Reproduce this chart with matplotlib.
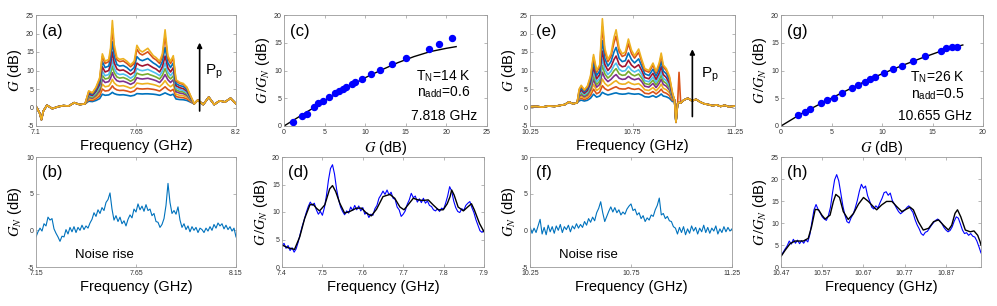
import numpy as np
import matplotlib
matplotlib.use('Agg')
import matplotlib.pyplot as plt
from matplotlib.ticker import FormatStrFormatter

plt.rcParams['font.family'] = ['Liberation Sans', 'DejaVu Sans']
plt.rcParams['mathtext.fontset'] = 'stix'

# ---------------- (a) gain vs frequency, 10 pump powers ----------------
freq_a_lo = [7.10, 7.12, 7.13, 7.14, 7.16, 7.19, 7.22, 7.25, 7.28, 7.31, 7.34, 7.37]
gain_a_lo = [0.3, -1.5, -3.3, -1.0, 0.6, -0.3, 0.2, 0.5, 0.4, 1.3, 0.8, 1.0]
freq_a_pump = [7.39, 7.41, 7.43, 7.45, 7.465, 7.48, 7.50, 7.51, 7.52, 7.53, 7.545, 7.56,
               7.58, 7.60, 7.62, 7.64, 7.655, 7.67, 7.685, 7.70, 7.715, 7.73, 7.745, 7.76,
               7.78, 7.795, 7.81, 7.825, 7.84, 7.855, 7.87, 7.89, 7.91, 7.93, 7.95]
freq_a_hi = [7.97, 7.99, 8.02, 8.05, 8.08, 8.11, 8.14, 8.17, 8.20]
gain_a_hi = [1.0, 2.0, 0.8, 2.8, 0.8, 1.8, 1.5, 2.5, 1.0]

gain_a_p1 = [1.7, 1.6, 1.9, 2.4, 3.6, 3.3, 3.4, 3.7, 4.1, 3.75, 3.5, 3.4, 3.45, 3.3, 3.1, 3.3, 3.75, 3.7,
             3.65, 3.7, 3.7, 3.65, 3.6, 3.5, 3.3, 3.6, 3.95, 3.6, 3.3, 3.6, 2.3, 2.15, 2.1, 1.9, 1.45]
gain_a_p2 = [2.05, 1.9, 2.35, 3.1, 5.0, 4.45, 4.6, 5.1, 5.85, 5.2, 4.75, 4.6, 4.65, 4.45, 4.15, 4.45, 5.2,
             5.05, 5.0, 5.05, 5.1, 5.0, 4.9, 4.75, 4.45, 5.0, 5.6, 4.9, 4.45, 4.9, 2.95, 2.75, 2.65, 2.35, 1.65]
gain_a_p3 = [2.4, 2.2, 2.8, 3.8, 6.3, 5.6, 5.8, 6.5, 7.6, 6.65, 6.0, 5.8, 5.9, 5.6, 5.2, 5.6, 6.6, 6.45,
             6.35, 6.45, 6.5, 6.35, 6.2, 6.0, 5.6, 6.3, 7.25, 6.2, 5.6, 6.2, 3.6, 3.3, 3.2, 2.8, 1.9]
gain_a_p4 = [2.75, 2.5, 3.25, 4.5, 7.6, 6.75, 7.0, 7.9, 9.4, 8.1, 7.25, 7.0, 7.1, 6.75, 6.25, 6.75, 8.05,
             7.8, 7.7, 7.8, 7.9, 7.7, 7.5, 7.25, 6.75, 7.6, 8.9, 7.5, 6.75, 7.5, 4.25, 3.9, 3.75, 3.25, 2.1]
gain_a_p5 = [3.0, 2.7, 3.6, 5.1, 8.7, 7.7, 7.95, 9.1, 11.2, 9.4, 8.25, 7.95, 8.1, 7.7, 7.1, 7.7, 9.3,
             8.95, 8.8, 8.95, 9.1, 8.8, 8.55, 8.25, 7.7, 8.7, 10.5, 8.55, 7.7, 8.55, 4.75, 4.35, 4.2, 3.6, 2.3]
gain_a_p6 = [3.3, 3.0, 4.0, 5.6, 9.8, 8.6, 8.9, 10.3, 12.9, 10.6, 9.25, 8.9, 9.05, 8.6, 7.9, 8.6, 10.55,
             10.1, 9.95, 10.1, 10.3, 9.95, 9.6, 9.25, 8.6, 9.8, 12.0, 9.6, 8.6, 9.6, 5.3, 4.85, 4.6, 4.0, 2.45]
gain_a_p7 = [3.6, 3.25, 4.4, 6.25, 11.0, 9.6, 10.0, 11.65, 15.0, 12.1, 10.4, 10.0, 10.15, 9.6, 8.9, 9.6,
             12.0, 11.45, 11.2, 11.45, 11.65, 11.2, 10.75, 10.4, 9.6, 11.0, 13.9, 10.75, 9.6, 10.75, 5.9,
             5.35, 5.1, 4.4, 2.65]
gain_a_p8 = [4.0, 3.55, 4.8, 6.95, 12.4, 10.8, 11.2, 13.25, 17.75, 13.85, 11.6, 11.2, 11.35, 10.8, 9.9,
             10.8, 13.75, 12.95, 12.65, 12.95, 13.25, 12.65, 12.05, 11.6, 10.8, 12.4, 16.25, 12.05, 10.8,
             12.05, 6.5, 5.9, 5.7, 4.8, 2.85]
gain_a_p9 = [4.3, 3.85, 5.3, 7.65, 13.8, 11.9, 12.4, 15.05, 21.4, 15.9, 12.9, 12.4, 12.6, 11.9, 11.0,
             11.9, 15.75, 14.6, 14.2, 14.6, 15.05, 14.2, 13.35, 12.9, 11.9, 13.8, 19.3, 13.35, 11.9,
             13.35, 7.2, 6.5, 6.25, 5.3, 3.1]
gain_a_p10 = [4.5, 4.0, 5.5, 8.0, 14.5, 12.5, 13.0, 16.0, 23.5, 17.0, 13.5, 13.0, 13.2, 12.5, 11.5,
              12.5, 16.8, 15.5, 15.0, 15.5, 16.0, 15.0, 14.0, 13.5, 12.5, 14.5, 21.0, 14.0, 12.5,
              14.0, 7.5, 6.8, 6.5, 5.5, 3.2]

# ---------------- (e) gain vs frequency, 10 pump powers ----------------
freq_e_lo = [10.25, 10.28, 10.31, 10.34, 10.37, 10.40, 10.42, 10.44, 10.46, 10.48]
gain_e_lo = [0.2, 0.3, 0.1, 0.4, 0.3, 0.6, 0.8, 1.5, 1.0, 1.3]
freq_e_pump = [10.49, 10.50, 10.515, 10.53, 10.545, 10.56, 10.575, 10.59, 10.603, 10.615, 10.63,
               10.645, 10.66, 10.67, 10.685, 10.70, 10.715, 10.73, 10.745, 10.76, 10.78, 10.795,
               10.81, 10.83, 10.85, 10.865, 10.88, 10.89, 10.90, 10.915, 10.93, 10.945]
freq_e_hi = [10.955, 10.962, 10.97, 10.977, 10.985, 11.0, 11.02, 11.04, 11.06, 11.08, 11.10, 11.12,
             11.14, 11.16, 11.18, 11.20, 11.22, 11.25]
gain_e_hi = [2.0, -4.0, 1.0, 1.5, 1.2, 2.0, 2.5, 1.8, 2.2, 1.5, 1.0, 0.8, 0.5, 0.7, 0.3, 0.6, 0.2, 0.4]
gain_e_hi_spur = [2.0, -4.0, 1.0, 9.5, 1.2, 2.0, 2.5, 1.8, 2.2, 1.5, 1.0, 0.8, 0.5, 0.7, 0.3, 0.6, 0.2, 0.4]

gain_e_p1 = [1.8, 2.0, 1.75, 1.95, 2.5, 3.6, 2.8, 3.1, 4.1, 3.7, 3.4, 3.6, 3.85, 3.95, 3.7, 3.6, 3.65,
             3.85, 3.7, 3.6, 3.7, 3.4, 2.9, 2.8, 3.2, 2.75, 3.2, 3.65, 3.1, 2.9, 2.5, 1.6]
gain_e_p2 = [2.2, 2.5, 2.15, 2.45, 3.25, 4.95, 3.7, 4.15, 5.9, 5.1, 4.6, 5.0, 5.4, 5.6, 5.1, 5.0, 5.0,
             5.35, 5.05, 4.9, 5.1, 4.6, 3.85, 3.7, 4.3, 3.65, 4.3, 4.95, 4.15, 3.85, 3.25, 1.9]
gain_e_p3 = [2.6, 3.0, 2.5, 2.9, 4.0, 6.25, 4.6, 5.2, 7.7, 6.5, 5.8, 6.3, 6.95, 7.25, 6.5, 6.3, 6.35,
             6.9, 6.45, 6.2, 6.45, 5.8, 4.8, 4.6, 5.4, 4.5, 5.4, 6.3, 5.2, 4.8, 4.0, 2.2]
gain_e_p4 = [3.0, 3.5, 2.9, 3.4, 4.75, 7.55, 5.5, 6.25, 9.5, 7.9, 7.0, 7.6, 8.5, 8.9, 7.9, 7.6, 7.7,
             8.4, 7.8, 7.5, 7.85, 7.0, 5.75, 5.5, 6.5, 5.4, 6.5, 7.65, 6.25, 5.75, 4.75, 2.5]
gain_e_p5 = [3.3, 3.9, 3.2, 3.8, 5.35, 8.6, 6.2, 7.1, 11.35, 9.1, 7.95, 8.7, 9.95, 10.5, 9.1, 8.7, 8.8,
             9.8, 8.95, 8.55, 9.05, 7.95, 6.5, 6.2, 7.4, 6.1, 7.4, 8.75, 7.1, 6.5, 5.35, 2.7]
gain_e_p6 = [3.6, 4.3, 3.5, 4.15, 5.95, 9.7, 6.95, 7.9, 13.1, 10.3, 8.9, 9.8, 11.35, 12.0, 10.3, 9.8,
             9.95, 11.15, 10.1, 9.6, 10.2, 8.9, 7.25, 6.95, 8.25, 6.8, 8.25, 9.8, 7.9, 7.25, 5.95, 3.0]
gain_e_p7 = [4.0, 4.75, 3.85, 4.6, 6.6, 10.9, 7.75, 8.9, 15.25, 11.65, 10.0, 11.0, 13.0, 13.9, 11.65,
             11.0, 11.2, 12.8, 11.45, 10.75, 11.55, 10.0, 8.1, 7.75, 9.25, 7.6, 9.25, 11.05, 8.9, 8.1,
             6.6, 3.25]
gain_e_p8 = [4.4, 5.25, 4.25, 5.1, 7.4, 12.25, 8.65, 9.9, 18.05, 13.25, 11.2, 12.4, 15.05, 16.25, 13.25,
             12.4, 12.65, 14.75, 12.95, 12.05, 13.15, 11.2, 9.1, 8.65, 10.35, 8.5, 10.35, 12.45, 9.9,
             9.1, 7.4, 3.55]
gain_e_p9 = [4.8, 5.75, 4.6, 5.55, 8.1, 13.6, 9.55, 11.0, 21.85, 15.05, 12.4, 13.8, 17.6, 19.3, 15.05,
             13.8, 14.2, 17.2, 14.6, 13.35, 14.9, 12.4, 10.0, 9.55, 11.45, 9.35, 11.45, 13.95, 11.0,
             10.0, 8.1, 3.85]
gain_e_p10 = [5.0, 6.0, 4.8, 5.8, 8.5, 14.3, 10.0, 11.5, 24.0, 16.0, 13.0, 14.5, 19.0, 21.0, 16.0,
              14.5, 15.0, 18.5, 15.5, 14.0, 15.8, 13.0, 10.5, 10.0, 12.0, 9.8, 12.0, 14.7, 11.5,
              10.5, 8.5, 4.0]

# ---------------- (c), (g) signal-to-noise improvement vs gain ----------------
gain_c = [1.07, 2.2, 2.8, 3.75, 4.2, 4.8, 5.5, 6.3, 6.8, 7.3, 7.65, 8.35, 8.8, 9.6, 10.7, 11.85,
          13.3, 15.0, 17.8, 19.1, 20.7]
snr_c = [0.8, 1.85, 2.25, 3.5, 4.1, 4.5, 5.2, 5.9, 6.3, 6.6, 7.0, 7.5, 7.9, 8.5, 9.3, 10.1,
         11.1, 12.2, 13.8, 14.8, 15.9]
fit_gain_c = [0, 2, 4, 6, 8, 10, 12, 14, 16, 18, 20, 21.2]
fit_snr_c = [0, 1.8, 3.6, 5.4, 7.1, 8.7, 10.1, 11.4, 12.5, 13.4, 14.0, 14.3]

gain_g = [1.7, 2.4, 2.9, 3.95, 4.6, 5.2, 6.05, 7.05, 7.65, 8.3, 8.8, 9.3, 10.2, 11.05, 11.95,
          13.1, 14.3, 15.8, 16.3, 16.9, 17.45]
snr_g = [2.0, 2.55, 3.0, 4.15, 4.7, 5.1, 6.0, 6.9, 7.45, 7.9, 8.4, 8.85, 9.6, 10.25, 10.85,
         11.7, 12.6, 13.6, 14.0, 14.3, 14.15]
fit_gain_g = [0, 2, 4, 6, 8, 10, 12, 14, 16, 18]
fit_snr_g = [0, 2.2, 4.1, 5.95, 7.75, 9.4, 10.9, 12.3, 13.6, 14.6]

# ---------------- (b), (f) noise rise ----------------
noise_b = [-0.9, -0.2, 0.3, -0.1, 0.9, 0.6, 1.8, 1.4, 1.6, 0.2, -0.4, -0.9, -1.5, -0.8, -0.9, 0.1,
           -0.5, 0.4, -0.2, 0.5, -0.3, 0.4, 0.0, 0.7, 0.1, 0.6, 0.3, 1.0, 1.5, 2.4, 1.9, 2.8, 2.3,
           3.1, 2.7, 3.8, 4.2, 5.1, 2.9, 1.4, 2.0, 1.2, 1.8, 0.9, 1.3, 0.6, 1.5, 2.1, 1.7, 2.9, 2.5,
           3.6, 2.8, 3.3, 2.6, 3.5, 2.7, 2.9, 2.0, 2.3, 1.2, 1.1, 0.4, 0.8, 1.6, 3.4, 6.4, 3.8, 2.3,
           2.7, 2.2, 3.2, 1.4, 0.4, 0.9, 0.1, 0.6, -0.2, 0.5, 0.0, 0.4, -0.3, 0.3, 0.1, -0.3, 0.3,
           -0.1, 0.5, 0.0, 0.8, 0.3, 1.0, 0.6, 0.9, 0.2, 0.7, 0.1, 0.5, -0.1, 0.3, -0.9]
noise_f = [0.5, -0.4, 0.3, -0.3, 0.6, 1.5, -0.5, 0.4, -0.6, 0.7, -0.2, 0.5, -0.4, 0.6, 0.0, 0.8,
           -0.3, 0.5, 0.1, 0.7, -0.2, 0.6, 0.2, 0.9, 0.3, 0.8, 0.4, 1.2, 0.7, 1.6, 1.1, 1.8, 1.3,
           2.4, 3.0, 3.9, 2.4, 1.2, 1.9, 2.6, 3.2, 2.5, 3.1, 2.4, 2.8, 2.1, 2.5, 2.2, 2.9, 3.3, 3.6,
           2.7, 2.9, 2.1, 2.4, 1.6, 2.0, 1.2, 1.7, 1.4, 2.1, 1.9, 2.8, 3.4, 4.4, 2.1, 2.3, 1.6, 1.9,
           1.3, 1.2, 0.5, 0.3, -0.5, 0.4, -0.3, 0.5, -0.6, 0.2, -0.4, 0.6, -0.1, 0.4, -0.5, 0.3,
           -0.2, 0.7, -0.3, 0.4, -0.4, 0.3, -0.1, 0.6, -0.5, 0.2, -0.3, 0.5, -0.2, 0.4, -0.1, 0.2]

# ---------------- (d), (h) SNR improvement vs frequency ----------------
snr_meas_d = [3.9, 4.3, 3.4, 3.9, 3.0, 3.5, 2.7, 3.3, 4.5, 6.0, 7.4, 8.6, 9.9, 11.0, 11.8, 11.2,
              11.6, 10.4, 9.6, 10.1, 9.4, 10.8, 13.0, 15.8, 17.9, 18.6, 16.9, 14.2, 12.3, 10.9, 10.1,
              9.5, 10.2, 9.8, 10.9, 10.3, 11.2, 10.4, 11.1, 10.2, 10.8, 9.6, 9.9, 9.0, 9.6, 9.4, 10.6,
              11.2, 12.5, 13.1, 13.8, 13.2, 14.0, 13.1, 13.6, 12.5, 12.3, 10.9, 10.4, 9.2, 9.6, 10.2,
              11.4, 12.2, 13.4, 12.6, 12.9, 11.8, 12.4, 11.7, 12.5, 11.6, 12.0, 11.2, 11.0, 10.4, 10.2,
              10.6, 10.1, 10.7, 10.5, 11.6, 12.9, 14.6, 13.8, 12.0, 10.8, 10.1, 9.9, 10.6, 10.3, 11.2,
              11.6, 11.9, 10.8, 9.9, 8.6, 7.6, 6.6, 6.3, 6.7]
fit_freq_d = [7.400, 7.415, 7.431, 7.444, 7.456, 7.469, 7.477, 7.485, 7.493, 7.506, 7.518, 7.525,
              7.533, 7.543, 7.555, 7.568, 7.584, 7.597, 7.609, 7.621, 7.634, 7.650, 7.667, 7.679,
              7.692, 7.702, 7.712, 7.725, 7.737, 7.750, 7.762, 7.774, 7.787, 7.799, 7.809, 7.816,
              7.820, 7.826, 7.836, 7.849, 7.861, 7.869, 7.876, 7.889, 7.900]
fit_snr_d = [4.0, 3.5, 3.2, 5.5, 8.8, 11.3, 11.4, 10.7, 10.2, 11.3, 14.2, 14.8, 13.7, 11.6, 9.8, 10.1,
             10.7, 10.7, 9.8, 9.3, 10.5, 12.8, 13.2, 12.5, 10.9, 10.4, 11.3, 12.5, 12.2, 12.1, 12.2,
             11.3, 10.4, 10.4, 11.5, 12.8, 14.0, 13.1, 10.9, 10.2, 11.0, 11.5, 10.4, 7.9, 6.4]

snr_meas_h = [2.6, 3.3, 4.1, 4.8, 5.9, 5.2, 6.3, 5.4, 6.1, 5.3, 6.0, 5.4, 6.2, 5.7, 7.4, 10.2, 13.0,
              14.2, 13.1, 12.3, 11.4, 10.9, 10.6, 11.7, 13.6, 16.9, 19.8, 21.0, 19.6, 16.8, 13.9, 11.8,
              10.3, 10.0, 11.2, 12.0, 13.4, 15.1, 17.2, 18.8, 17.9, 18.4, 16.2, 15.0, 13.6, 13.2, 13.9,
              13.4, 14.6, 15.6, 16.9, 17.1, 16.3, 16.8, 15.1, 14.3, 13.4, 12.6, 12.1, 12.5, 12.9, 13.5,
              13.9, 13.1, 12.4, 10.8, 9.6, 8.7, 7.6, 7.2, 7.9, 8.1, 8.8, 9.5, 10.1, 10.6, 10.9, 10.5,
              9.9, 9.0, 8.4, 8.0, 8.3, 9.1, 10.4, 11.4, 11.1, 9.8, 8.4, 7.6, 7.8, 7.2, 7.6, 7.0, 6.8,
              5.9, 4.6, 3.2]
fit_freq_h = [10.470, 10.480, 10.492, 10.504, 10.524, 10.536, 10.544, 10.553, 10.561, 10.569,
              10.577, 10.589, 10.597, 10.603, 10.612, 10.621, 10.633, 10.646, 10.658, 10.670,
              10.682, 10.694, 10.702, 10.714, 10.726, 10.739, 10.751, 10.763, 10.771, 10.783,
              10.791, 10.803, 10.815, 10.828, 10.840, 10.852, 10.864, 10.876, 10.884, 10.892,
              10.898, 10.906, 10.917, 10.929, 10.938, 10.947, 10.953, 10.955]
fit_snr_h = [2.4, 3.8, 5.3, 5.9, 5.9, 6.5, 9.1, 13.1, 13.0, 11.8, 10.9, 11.8, 14.9, 16.5, 15.8, 12.6,
             10.8, 12.2, 14.3, 15.8, 14.9, 13.7, 13.0, 14.1, 14.9, 14.9, 13.7, 12.6, 13.0, 13.6, 13.0,
             10.3, 8.4, 8.8, 10.3, 10.7, 9.5, 8.4, 9.5, 12.2, 13.0, 11.4, 8.4, 8.0, 8.2, 7.2, 5.7, 5.0]

# ---------------- styling ----------------
matlab_colors = ['#0072BD', '#D95319', '#EDB120', '#7E2F8E', '#77AC30', '#4DBEEE', '#A2142F',
                 '#0072BD', '#D95319', '#EDB120']
frame_color = '#9a9a9a'
tick_text = '#333333'
W, H = 997, 306

fig = plt.figure(figsize=(W / 100, H / 100), dpi=100)


def make_ax(left, right, top, bottom):
    return fig.add_axes([left / W, 1 - bottom / H, (right - left) / W, (bottom - top) / H])


def style(ax, xlim, ylim, xticks, yticks):
    ax.set_xlim(*xlim)
    ax.set_ylim(*ylim)
    ax.set_xticks(xticks)
    ax.set_yticks(yticks)
    ax.xaxis.set_major_formatter(FormatStrFormatter('%g'))
    ax.yaxis.set_major_formatter(FormatStrFormatter('%g'))
    for s in ax.spines.values():
        s.set_color(frame_color)
        s.set_linewidth(0.6)
    ax.tick_params(direction='in', length=2.5, width=0.5, color=frame_color, labelsize=5,
                   labelcolor=tick_text, top=True, right=True)
    ax.tick_params(axis='x', pad=2.5)
    ax.tick_params(axis='y', pad=1.5)


def panel_label(ax, txt):
    ax.text(0.03, 0.855, txt, transform=ax.transAxes, fontsize=12, ha='left', va='center')


xlab = 'Frequency (GHz)'
lab_kw = dict(fontsize=10.5)
xpad = 2
ypad = 1.5

# (a)
ax = make_ax(36, 236, 15, 126)
gains_a = [gain_a_p1, gain_a_p2, gain_a_p3, gain_a_p4, gain_a_p5, gain_a_p6, gain_a_p7,
           gain_a_p8, gain_a_p9, gain_a_p10]
for g, c in zip(gains_a, matlab_colors):
    ax.plot(freq_a_lo + freq_a_pump + freq_a_hi, gain_a_lo + g + gain_a_hi, color=c, lw=1.2)
ax.annotate('', xy=(8.0, 18.3), xytext=(8.0, -1.7),
            arrowprops=dict(arrowstyle='-|>', color='k', lw=1.2, mutation_scale=7))
ax.text(8.03, 9.5, r'P$_\mathregular{p}$', fontsize=11, va='center', ha='left')
style(ax, (7.1, 8.2), (-5, 25), [7.1, 7.65, 8.2], [-5, 0, 5, 10, 15, 20, 25])
ax.set_xlabel(xlab, labelpad=xpad, **lab_kw)
ax.set_ylabel(r'$G$ (dB)', labelpad=ypad, **lab_kw)
panel_label(ax, '(a)')

# (c)
ax = make_ax(284, 487, 15, 126)
ax.plot(fit_gain_c, fit_snr_c, color='k', lw=1.0)
ax.plot(gain_c, snr_c, 'o', color='#0000ff', ms=4.3)
style(ax, (0, 25), (0, 20), [0, 5, 10, 15, 20, 25], [0, 5, 10, 15, 20])
ax.set_xlabel(r'$G$ (dB)', labelpad=xpad, **lab_kw)
ax.set_ylabel(r'$G\,/G_N$ (dB)', labelpad=ypad, **lab_kw)
ax.text(0.92, 0.45, r'T$_\mathregular{N}$=14 K', transform=ax.transAxes, fontsize=10, ha='right', va='center')
ax.text(0.92, 0.305, r'n$_\mathregular{add}$=0.6', transform=ax.transAxes, fontsize=10, ha='right', va='center')
ax.text(0.954, 0.09, '7.818 GHz', transform=ax.transAxes, fontsize=10, ha='right', va='center')
panel_label(ax, '(c)')

# (e)
ax = make_ax(530, 735, 15, 126)
gains_e = [gain_e_p1, gain_e_p2, gain_e_p3, gain_e_p4, gain_e_p5, gain_e_p6, gain_e_p7,
           gain_e_p8, gain_e_p9, gain_e_p10]
for i, (g, c) in enumerate(zip(gains_e, matlab_colors)):
    hi = gain_e_hi_spur if i == 1 else gain_e_hi
    ax.plot(freq_e_lo + freq_e_pump + freq_e_hi, gain_e_lo + g + hi, color=c, lw=1.2)
ax.annotate('', xy=(11.042, 16.5), xytext=(11.042, -3.2),
            arrowprops=dict(arrowstyle='-|>', color='k', lw=1.2, mutation_scale=7))
ax.text(11.085, 8.8, r'P$_\mathregular{p}$', fontsize=11, va='center', ha='left')
style(ax, (10.25, 11.25), (-5, 25), [10.25, 10.75, 11.25], [-5, 0, 5, 10, 15, 20, 25])
ax.set_xlabel(xlab, labelpad=xpad, **lab_kw)
ax.set_ylabel(r'$G$ (dB)', labelpad=ypad, **lab_kw)
panel_label(ax, '(e)')

# (g)
ax = make_ax(781, 983, 15, 126)
ax.plot(fit_gain_g, fit_snr_g, color='k', lw=1.0)
ax.plot(gain_g, snr_g, 'o', color='#0000ff', ms=4.3)
style(ax, (0, 20), (0, 20), [0, 5, 10, 15, 20], [0, 5, 10, 15, 20])
ax.set_xlabel(r'$G$ (dB)', labelpad=xpad, **lab_kw)
ax.set_ylabel(r'$G\,/G_N$ (dB)', labelpad=ypad, **lab_kw)
ax.text(0.909, 0.44, r'T$_\mathregular{N}$=26 K', transform=ax.transAxes, fontsize=10, ha='right', va='center')
ax.text(0.909, 0.29, r'n$_\mathregular{add}$=0.5', transform=ax.transAxes, fontsize=10, ha='right', va='center')
ax.text(0.947, 0.09, '10.655 GHz', transform=ax.transAxes, fontsize=10, ha='right', va='center')
panel_label(ax, '(g)')

# (b)
ax = make_ax(36, 236, 157, 267)
ax.plot(np.linspace(7.15, 8.15, len(noise_b)), noise_b, color='#0072BD', lw=0.8)
ax.text(7.493, -3.4, 'Noise rise', fontsize=9.5, ha='center', va='center')
style(ax, (7.15, 8.15), (-5, 10), [7.15, 7.65, 8.15], [-5, 0, 5, 10])
ax.set_xlabel(xlab, labelpad=xpad, **lab_kw)
ax.set_ylabel(r'$G_N$ (dB)', labelpad=ypad, **lab_kw)
panel_label(ax, '(b)')

# (d)
ax = make_ax(282, 484, 157, 267)
ax.plot(np.linspace(7.4, 7.9, len(snr_meas_d)), snr_meas_d, color='#0000ff', lw=0.8)
ax.plot(fit_freq_d, fit_snr_d, color='k', lw=1.0)
style(ax, (7.4, 7.9), (0, 20), [7.4, 7.5, 7.6, 7.7, 7.8, 7.9], [0, 5, 10, 15, 20])
ax.set_xlabel(xlab, labelpad=xpad, **lab_kw)
ax.set_ylabel(r'$G\,/G_N$ (dB)', labelpad=ypad, **lab_kw)
panel_label(ax, '(d)')

# (f)
ax = make_ax(530, 732, 157, 267)
ax.plot(np.linspace(10.25, 11.25, len(noise_f)), noise_f, color='#0072BD', lw=0.8)
ax.text(10.538, -3.3, 'Noise rise', fontsize=9.5, ha='center', va='center')
style(ax, (10.25, 11.25), (-5, 10), [10.25, 10.75, 11.25], [-5, 0, 5, 10])
ax.set_xlabel(xlab, labelpad=xpad, **lab_kw)
ax.set_ylabel(r'$G_N$ (dB)', labelpad=ypad, **lab_kw)
panel_label(ax, '(f)')

# (h)
ax = make_ax(781, 981, 157, 267)
ax.plot(np.linspace(10.47, 10.955, len(snr_meas_h)), snr_meas_h, color='#0000ff', lw=0.8)
ax.plot(fit_freq_h, fit_snr_h, color='k', lw=1.0)
style(ax, (10.47, 10.955), (0, 25), [10.47, 10.57, 10.67, 10.77, 10.87], [0, 5, 10, 15, 20, 25])
ax.set_xlabel(xlab, labelpad=xpad, **lab_kw)
ax.set_ylabel(r'$G\,/G_N$ (dB)', labelpad=ypad, **lab_kw)
panel_label(ax, '(h)')

fig.savefig('out.png', dpi=100)
